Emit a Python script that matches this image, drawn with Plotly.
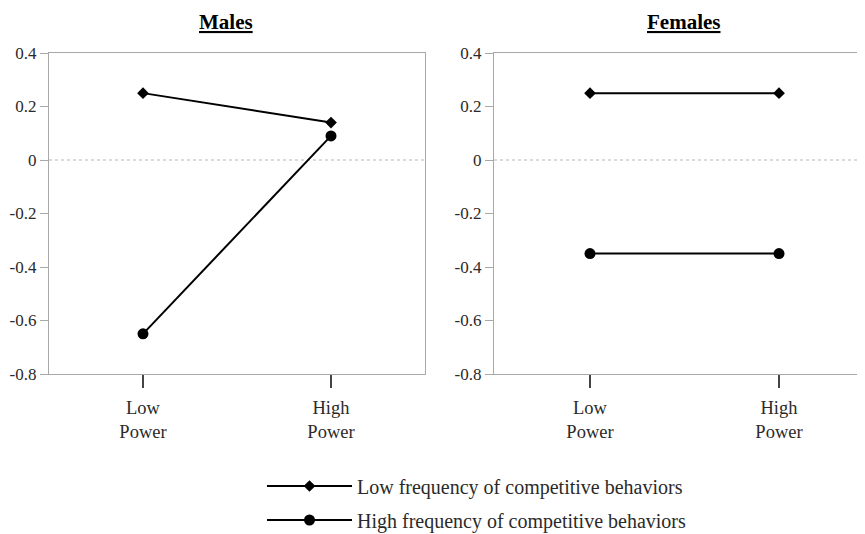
import plotly.graph_objects as go

categories = ["Low<br>Power", "High<br>Power"]
males_low_freq = [0.25, 0.14]
males_high_freq = [-0.65, 0.09]
females_low_freq = [0.25, 0.25]
females_high_freq = [-0.35, -0.35]
y_tickvals = [-0.8, -0.6, -0.4, -0.2, 0, 0.2, 0.4]
y_ticktext = ["-0.8", "-0.6", "-0.4", "-0.2", "0", "0.2", "0.4"]
series_names = ["Low frequency of competitive behaviors",
                "High frequency of competitive behaviors"]
panel_titles = ["Males", "Females"]

# page body has an 8px margin; figure placed so it fills the 865x534 window
W, H = 857, 526
OFF = 8
FONT = "Liberation Serif, Times New Roman, serif"
AXIS_GRAY = "#a8a8a8"
TEXT = "#2a2a2a"
TOP, BOTTOM = 53 - OFF, 374 - OFF
PH = BOTTOM - TOP

fig = go.Figure()

def add_pair(low_vals, high_vals, xa, ya, show):
    fig.add_trace(go.Scatter(
        x=categories, y=low_vals, xaxis=xa, yaxis=ya,
        mode="lines+markers", name=series_names[0], legend="legend",
        showlegend=show,
        line=dict(color="black", width=2),
        marker=dict(symbol="diamond", size=9, color="black")))
    fig.add_trace(go.Scatter(
        x=categories, y=high_vals, xaxis=xa, yaxis=ya,
        mode="lines+markers", name=series_names[1], legend="legend2",
        showlegend=show,
        line=dict(color="black", width=2),
        marker=dict(symbol="circle", size=11, color="black")))

add_pair(males_low_freq, males_high_freq, "x", "y", True)
add_pair(females_low_freq, females_high_freq, "x2", "y2", False)

xcommon = dict(
    type="category", showline=True, linecolor=AXIS_GRAY, linewidth=1.3,
    mirror=True, showgrid=False, zeroline=False,
    ticks="outside", ticklen=13, tickwidth=1.6, tickcolor="#444444",
    ticklabelstandoff=4,
    tickfont=dict(family=FONT, size=18.5, color=TEXT),
)
ycommon = dict(
    range=[-0.8, 0.4], tickvals=y_tickvals, ticktext=y_ticktext,
    showline=True, linecolor=AXIS_GRAY, linewidth=1.3,
    showgrid=False, zeroline=False,
    ticks="outside", ticklen=8, tickwidth=1.3, tickcolor=AXIS_GRAY,
    tickfont=dict(family=FONT, size=17, color=TEXT),
    domain=[0, 1],
)

fig.update_layout(
    width=W, height=H,
    margin=dict(l=0, r=0, t=TOP, b=H - BOTTOM, autoexpand=False),
    plot_bgcolor="white", paper_bgcolor="white",
    xaxis=dict(xcommon, domain=[(49 - OFF) / W, (425 - OFF) / W], range=[-0.5, 1.5], anchor="y"),
    yaxis=dict(ycommon, anchor="x", mirror=True),
    xaxis2=dict(xcommon, domain=[(494 - OFF) / W, 1.0], range=[-0.508, 1.455], anchor="y2"),
    yaxis2=dict(ycommon, anchor="x2", mirror=False),
    legend=dict(x=254 / W, y=(BOTTOM - (486 - OFF)) / PH, xanchor="left", yanchor="middle",
                font=dict(family=FONT, size=20, color=TEXT), itemwidth=85,
                bgcolor="rgba(0,0,0,0)"),
    legend2=dict(x=254 / W, y=(BOTTOM - (520 - OFF)) / PH, xanchor="left", yanchor="middle",
                 font=dict(family=FONT, size=20, color=TEXT), itemwidth=85,
                 bgcolor="rgba(0,0,0,0)"),
)

for xr, yr in (("x domain", "y"), ("x2 domain", "y2")):
    fig.add_shape(type="line", xref=xr, yref=yr, x0=0, x1=1, y0=0, y1=0,
                  line=dict(color="#b5b5b5", width=1, dash="dot"), layer="below")

for title, xpx in zip(panel_titles, (226, 683)):
    fig.add_annotation(text="<b><u>" + title + "</u></b>", xref="paper", yref="paper",
                       x=(xpx - OFF) / W, y=BOTTOM / PH,
                       xanchor="center", yanchor="top",
                       showarrow=False, font=dict(family=FONT, size=21, color="black"))

fig.write_html("out.html")
